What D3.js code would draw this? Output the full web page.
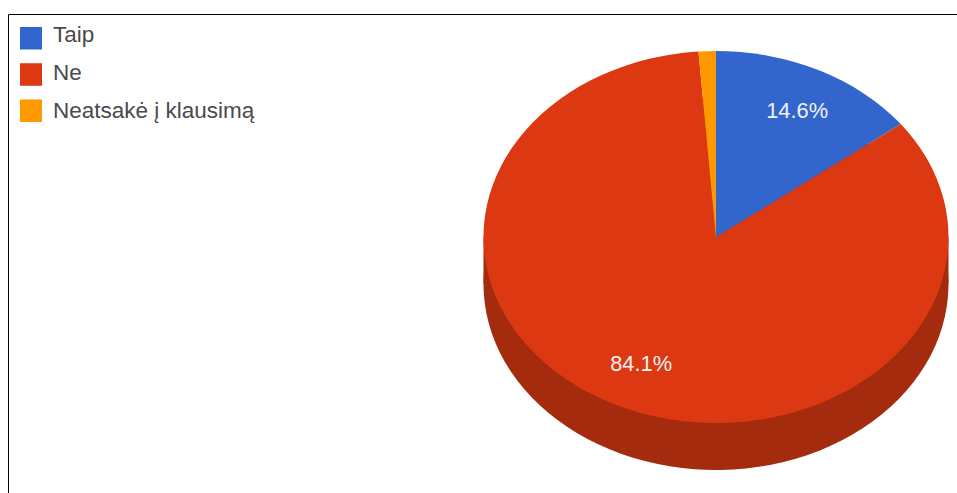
<!DOCTYPE html>
<html>
<head>
<meta charset="utf-8">
<script src="https://cdn.jsdelivr.net/npm/d3@7"></script>
<style>
html,body{margin:0;padding:0;background:#fff;}
svg{display:block;}
text{font-family:"Liberation Sans",Arial,sans-serif;}
</style>
</head>
<body>
<svg id="chart" width="957" height="493"></svg>
<script>
const categories = ["Taip", "Ne", "Neatsakė į klausimą"];
const shares = [14.6, 84.1, 1.2];
const sliceLabels = ["14.6%", "84.1%", null];
const colours = ["#3366cc", "#dc3912", "#ff9900"];

const svg = d3.select("#chart");

// Chart frame: only the top and left edges fall inside the window.
svg.append("path")
  .attr("d", "M8.5,493V14.5H957")
  .attr("fill", "none")
  .attr("stroke", "#000")
  .attr("stroke-width", 1);

// Legend: swatches and their captions sit on slightly different rows.
const swatchY = d3.scalePoint().domain(categories).range([38, 110.5]);
const captionY = d3.scalePoint().domain(categories).range([42, 118]);
const legend = svg.append("g").selectAll("g").data(categories).join("g");
legend.append("rect")
  .attr("x", 20).attr("y", d => swatchY(d) - 11)
  .attr("width", 22).attr("height", 22.5)
  .attr("fill", (d, i) => colours[i]);
legend.append("text")
  .attr("x", 53).attr("y", d => captionY(d))
  .attr("font-size", 22.5)
  .attr("fill", "#4a4a4a")
  .text(d => d);

// Tilted pie geometry
const cx = 716, cy = 237, radius = 232.5, tilt = 0.8, depth = 47;
const slices = d3.pie().sort(null).value(d => d)(shares);
const arc = d3.arc().innerRadius(0).outerRadius(radius);
const labelArc = d3.arc().innerRadius(175).outerRadius(175);
const labelSpreadX = 1.046;

const shade = c => {
  const k = d3.rgb(c);
  return d3.rgb(k.r * 0.75, k.g * 0.75, k.b * 0.75).formatHex();
};

// Extruded wall: a darker copy of the disc swept down to the full depth.
const wall = svg.append("g").attr("transform", `translate(${cx},${cy})`);
wall.append("rect")
  .attr("x", -radius).attr("y", 0)
  .attr("width", radius * 2).attr("height", depth)
  .attr("fill", shade(colours[1]));
wall.append("g")
  .attr("transform", `translate(0,${depth}) scale(1,${tilt})`)
  .selectAll("path").data(slices).join("path")
  .attr("d", arc)
  .attr("fill", (d, i) => shade(colours[i]));

// Top face of the pie
svg.append("g")
  .attr("transform", `translate(${cx},${cy}) scale(1,${tilt})`)
  .selectAll("path").data(slices).join("path")
  .attr("d", arc)
  .attr("fill", (d, i) => colours[i]);

// Percentage labels on the top face
svg.append("g").selectAll("text")
  .data(slices.filter((d, i) => sliceLabels[i]))
  .join("text")
  .attr("x", d => cx + labelArc.centroid(d)[0] * labelSpreadX)
  .attr("y", d => cy + labelArc.centroid(d)[1] * tilt + 6.5)
  .attr("text-anchor", "middle")
  .attr("font-size", 21.8)
  .attr("fill", "#f2f2f2")
  .text(d => sliceLabels[d.index]);
</script>
</body>
</html>
